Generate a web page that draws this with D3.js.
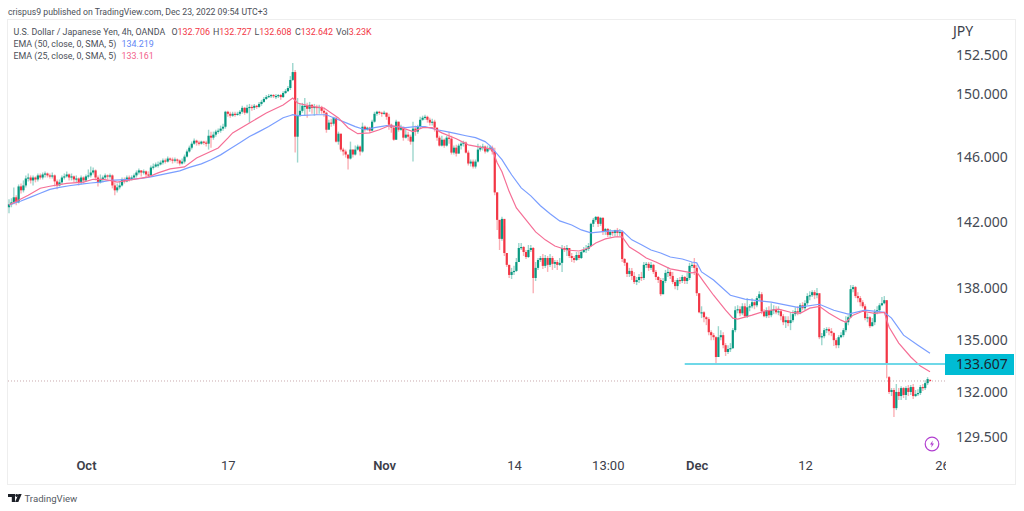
<!DOCTYPE html>
<html>
<head>
<meta charset="utf-8">
<script src="https://d3js.org/d3.v7.min.js"></script>
<style>
  body { margin: 0; background: #fff; }
  svg { display: block; font-family: "Noto Sans", sans-serif; }
</style>
</head>
<body>
<svg></svg>
<script>
const width = 1024;
const height = 511;

// 4h candles: [close, high, low, open?]. open = previous close unless given
const candles = [
[143.06,143.37,142.51,142.88],[143.18,143.43,142.88],[143.49,144.10,143.06],[143.18,143.61,143.0],[144.16,144.28,143.12],[143.92,144.34,143.73],[144.22,144.53,143.79],[144.65,144.84,144.10],[144.71,144.96,144.47],[144.53,144.84,144.34],
[144.71,144.84,144.22],[144.59,144.78,144.41],[144.84,144.96,144.47],[144.71,144.96,144.59],[144.90,145.02,144.59],[144.96,145.09,144.71],[144.84,145.02,144.71],[144.78,144.96,144.65],[144.84,145.02,144.65],[144.47,144.90,144.16],
[144.22,144.59,143.98],[144.41,144.59,144.16],[144.71,144.84,144.28],[144.78,144.96,144.59],[144.90,145.09,144.71],[144.71,144.96,144.53],[144.78,144.96,144.53],[144.59,144.84,144.41],[144.65,144.84,144.41],[144.41,144.71,144.22],
[144.71,144.84,144.28],[144.53,144.78,144.34],[144.78,144.90,144.47],[144.84,145.21,144.65],[145.02,145.39,144.71],[145.15,145.33,144.90],[144.71,145.21,144.53],[144.41,144.84,144.16],[144.59,144.90,144.34],[144.71,144.84,144.41],
[144.84,144.96,144.59],[144.78,144.90,144.59],[144.84,144.96,144.65],[144.22,144.90,144.04],[143.92,144.41,143.61],[144.10,144.34,143.79],[144.22,144.47,143.98],[144.59,144.71,144.16],[144.47,144.71,144.34],[144.71,144.84,144.41],
[144.59,144.84,144.47],[144.71,144.84,144.53],[144.84,144.96,144.59],[145.02,145.15,144.71],[145.15,145.27,144.90],[145.02,145.15,144.78],[145.09,145.21,144.90],[144.90,145.15,144.71],[144.84,145.09,144.71],[145.33,145.46,144.84],
[145.39,145.58,145.21],[145.52,145.64,145.33],[145.52,145.70,145.33],[145.64,145.77,145.46],[145.77,145.89,145.52],[145.70,145.89,145.58],[145.89,146.01,145.64],[145.83,145.95,145.70],[145.77,145.95,145.58],[145.83,145.95,145.64],
[145.77,145.89,145.58],[145.58,145.83,145.46],[145.70,145.89,145.52],[146.01,146.14,145.58],[146.33,146.45,145.95],[146.57,146.70,146.26],[146.82,146.95,146.45],[147.01,147.14,146.76],[146.89,147.07,146.70],[146.82,147.01,146.70],
[146.95,147.01,146.76],[146.89,147.01,146.76],[146.82,147.01,146.64],[147.32,147.70,146.45],[147.20,147.58,146.57],[147.39,147.58,147.07],[147.58,147.70,147.26],[147.64,147.77,147.45],[147.77,147.96,147.51],[147.89,148.08,147.64],
[148.84,148.90,147.77],[148.71,148.90,148.52],[148.59,148.84,148.46],[148.71,148.84,148.52],[148.65,148.84,148.52],[148.71,148.84,148.59],[148.84,148.96,148.59],[149.09,149.22,148.71],[148.78,149.15,148.65],[149.09,149.28,148.71],
[149.15,149.34,148.15],[149.09,149.28,148.90],[149.22,149.34,148.96],[149.15,149.28,149.03],[149.34,149.47,149.09],[149.47,149.60,149.22],[149.66,149.78,149.41],[149.78,149.91,149.60],[149.85,149.97,149.72],[149.91,149.97,149.72],
[149.85,149.97,149.72],[149.85,149.97,149.66],[149.91,149.97,149.72],[149.78,149.97,149.60],[150.04,150.16,149.72],[150.16,150.29,149.97],[150.36,150.49,150.10],[150.88,151.13,150.23],[151.39,151.98,150.82],[147.26,151.52,146.26],
[148.59,149.72,145.64],[148.90,149.34,148.52],[149.22,149.41,148.78],[149.22,149.72,148.59],[149.03,149.41,148.46],[149.28,149.47,148.84],[149.09,149.34,148.71],[149.15,149.34,148.59],[149.09,149.28,148.65],[149.15,149.28,148.71],
[148.90,149.22,148.71],[148.78,149.09,148.52],[147.70,148.84,147.51],[148.15,148.33,147.89],[148.08,148.40,147.89],[148.46,148.52,147.96],[146.95,148.46,146.89],[147.45,147.58,146.76],[146.45,147.45,146.33],[146.33,146.57,146.08],
[146.14,146.45,145.95],[145.89,146.08,145.21],[146.45,146.95,145.83],[146.14,146.45,145.95],[146.45,146.70,146.08],[146.64,146.76,146.39],[146.33,146.70,146.08],[147.89,148.15,146.26],[147.70,147.96,147.58],[147.83,147.89,147.64],
[147.64,147.89,147.51],[148.21,148.33,147.64],[148.71,148.84,148.15],[148.84,148.90,148.59],[148.78,148.90,148.65],[148.71,148.84,148.52],[148.78,148.90,148.65],[148.52,148.78,148.33],[148.02,148.71,147.70],[147.83,148.08,147.51],
[147.07,147.96,147.01],[148.21,148.33,147.07],[147.70,148.21,147.58],[147.83,148.02,147.64],[147.20,147.89,147.01],[147.39,147.70,147.14],[147.26,147.58,147.01],[146.95,147.39,146.76],[147.77,148.21,145.70],[147.58,147.96,147.32],
[147.89,148.02,147.45],[148.33,148.52,147.77],[148.46,148.59,148.27],[148.52,148.65,148.33],[148.33,148.59,148.15],[148.15,148.46,147.96],[148.21,148.40,147.96],[147.83,148.33,147.58],[147.20,147.83,147.01],[146.70,147.32,146.64],
[147.07,147.32,146.64],[146.70,147.14,146.57],[147.20,147.32,146.64],[147.14,147.58,146.82],[146.26,147.32,146.14],[146.57,146.70,146.14],[146.20,146.76,146.01],[146.70,146.82,146.20],[146.82,146.95,146.45],[146.89,147.01,146.64],
[146.26,146.95,146.20],[145.58,146.39,145.46],[145.70,145.83,145.39],[145.39,145.83,145.27],[145.70,145.83,145.27],[146.45,146.82,145.64],[146.57,146.70,146.33],[146.64,146.82,146.39],[146.33,146.70,146.20],[146.51,146.70,146.26],
[146.57,146.70,146.39],[146.33,146.70,146.14],[143.79,146.57,143.61],[142.11,143.82,141.50],[140.96,142.11,140.29],[142.17,142.30,140.84],[140.11,141.74,139.93],[139.40,140.11,139.28],[138.80,139.40,138.62],[138.98,139.22,138.56],
[139.04,139.34,138.80],[139.57,139.81,138.98],[140.41,140.71,139.57],[140.47,140.71,140.29],[140.17,140.53,139.93],[139.87,140.29,139.75],[140.29,140.59,139.81],[140.41,140.59,140.17],[138.62,140.47,137.72],[139.22,139.57,138.44],
[139.69,139.81,139.10],[139.81,139.93,139.57],[139.34,140.05,139.16],[139.81,139.99,139.22],[139.40,139.93,138.98],[139.81,140.05,139.28],[139.46,139.93,139.10],[139.57,139.69,139.22],[139.40,139.69,139.10],[139.52,139.81,139.34],
[140.41,140.59,138.98],[140.29,140.53,140.17],[140.41,140.59,139.93],[139.93,140.29,139.81],[139.81,140.11,139.57],[139.69,139.93,139.52],[139.99,140.17,139.63],[139.81,140.17,139.69],[140.17,140.29,139.75],[140.29,140.47,140.11],
[140.35,140.59,140.11],[140.53,140.71,140.23],[141.87,141.93,140.47],[142.11,142.23,141.68],[142.29,142.35,141.99],[141.87,142.35,141.68],[142.23,142.29,141.74],[141.38,142.29,141.20],[141.56,141.62,141.20],[141.20,141.62,141.08],
[141.38,141.56,141.08],[141.32,141.44,141.14],[141.50,141.50,141.14],[141.32,141.62,141.08],[141.38,141.56,141.14],[139.75,141.44,139.57],[139.52,139.81,139.34],[138.86,139.57,138.68],[139.04,139.22,138.68],[138.74,139.22,138.50],
[138.38,138.98,138.26],[138.50,138.68,138.20],[138.68,138.86,138.32],[138.62,138.98,138.44],[139.40,139.57,138.50],[139.46,139.57,139.22],[139.22,139.57,139.04],[139.40,139.57,139.10],[138.98,139.46,138.86],[138.68,139.10,138.50],
[138.50,138.74,138.32],[137.66,138.62,137.55],[138.44,138.62,137.66],[138.92,139.10,138.32],[138.98,139.28,138.68],[138.74,139.10,138.56],[138.38,138.98,138.26],[138.14,138.50,137.96],[138.50,138.62,137.90],[138.44,138.68,138.26],
[138.68,138.80,138.32],[138.44,138.74,138.26],[138.62,138.92,138.26],[139.34,139.52,138.50],[139.40,139.57,139.22],[139.22,139.81,138.80],[137.72,139.40,137.55],[136.60,137.60,136.54],[136.60,136.95,136.26],[136.31,136.66,136.02],
[136.20,136.37,135.85],[135.44,136.31,135.27],[135.27,135.56,134.98],[135.15,135.39,134.98],[134.01,135.21,133.60],[135.15,135.79,134.41],[135.27,135.56,134.98],[134.69,135.44,134.52],[134.30,134.81,134.07],[134.47,134.69,134.18],
[134.52,134.81,134.30],[135.56,135.68,134.47],[136.72,136.95,135.44],[136.78,137.01,136.54],[136.54,136.95,136.37],[136.95,137.13,136.43],[136.37,137.13,136.26],[136.89,137.43,136.26],[136.95,137.07,136.66],[137.19,137.43,136.84],
[137.01,137.25,136.78],[137.43,137.55,136.89],[137.66,137.84,137.31],[136.66,137.78,136.49],[136.37,136.78,136.31],[136.72,136.89,136.26],[136.43,136.95,136.26],[136.72,137.13,136.31],[136.78,137.01,136.49],[136.60,136.95,136.49],
[136.66,136.95,136.43],[136.37,136.78,136.14],[136.02,136.49,135.85],[136.14,136.37,135.68],[135.97,136.37,135.79],[136.14,136.60,135.56],[136.49,136.72,136.02],[136.66,136.89,136.37],[136.60,136.95,136.43],[137.01,137.13,136.49],
[136.84,137.19,136.72],[137.13,137.31,136.72],[137.55,137.72,137.01],[137.60,137.84,137.31],[137.78,137.90,137.49],[137.60,137.90,137.37],[137.72,138.02,137.43],[135.15,137.60,135.04],[135.21,135.39,134.69],[135.56,135.68,135.09],
[135.62,135.73,135.39],[135.50,135.73,135.27],[135.39,135.68,135.21],[134.98,135.44,134.64],[134.69,135.09,134.52],[135.15,135.27,134.52],[135.27,135.44,135.09],[135.56,135.68,135.15],[136.02,136.37,135.44],[136.31,136.43,135.85],
[137.96,138.20,136.26],[138.08,138.20,137.78],[137.55,138.14,137.43],[137.43,137.78,137.19],[137.19,137.55,136.95],[136.95,137.31,136.84],[136.26,137.07,136.14],[136.31,136.54,136.02],[135.79,136.37,135.68],[136.02,136.26,135.79],
[136.60,136.78,135.85],[136.72,136.95,136.49],[137.01,137.13,136.60],[137.13,137.49,136.95],[137.31,137.55,137.07],[133.66,137.31,132.80],[132.02,132.92,131.90,132.86],[132.13,132.24,131.79],[131.11,132.24,130.61],[132.02,132.47,131.00],
[131.79,132.24,131.56],[132.24,132.35,131.56],[131.85,132.30,131.68],[132.24,132.35,131.56],[132.02,132.41,131.79],[132.30,132.41,131.85],[131.79,132.47,131.62],[131.90,132.13,131.73],[131.96,132.18,131.79],[132.30,132.41,131.85],
[132.24,132.47,132.07],[132.52,132.69,132.13],[132.75,132.86,132.41],[132.642,132.727,132.608,132.706]
];

// moving averages, read as [bar index, value]
const ema50 = [[0,143.02],[5,143.26],[9,143.5],[13,143.74],[17,143.98],[21,144.1],[25,144.2],[30,144.3],[34,144.37],[38,144.43],[42,144.53],[46,144.56],[50,144.59],[55,144.65],[59,144.75],[63,144.87],[67,145.0],[71,145.12],[75,145.34],[80,145.56],[84,145.81],[88,146.12],[92,146.5],[96,146.88],[100,147.27],[104,147.58],[108,147.9],[114,148.46],[117,148.6],[118,148.66],[120,148.6],[128,148.65],[132,148.65],[136,148.4],[140,148.15],[144,147.9],[148,147.7],[152,147.83],[157,147.96],[161,147.9],[165,147.83],[169,147.9],[173,147.9],[178,147.7],[182,147.58],[186,147.45],[190,147.32],[194,147.2],[198,146.95],[200,146.7],[205,145.82],[209,144.88],[213,144.07],[217,143.58],[221,142.97],[225,142.48],[229,142.05],[234,141.8],[238,141.5],[242,141.32],[246,141.38],[250,141.44],[255,141.44],[259,140.9],[263,140.6],[267,140.29],[271,140.11],[275,139.87],[280,139.75],[284,139.57],[286,139.52],[288,138.98],[293,138.5],[300,137.6],[306,137.37],[317,137.19],[328,136.89],[337,137.07],[343,136.72],[349,136.49],[356,136.72],[364,136.6],[367,136.26],[372,135.27],[378,134.69],[383,134.219]];
const ema25 = [[0,143.02],[8,143.62],[13,144.05],[17,144.17],[24,144.35],[31,144.43],[35,144.6],[39,144.6],[43,144.5],[45,144.43],[50,144.55],[58,144.75],[62,145.0],[67,145.25],[73,145.37],[78,145.93],[87,146.55],[91,147.17],[93,147.5],[100,148.13],[107,148.76],[114,149.27],[118,149.72],[120,149.4],[125,149.2],[131,149.08],[137,148.45],[141,147.83],[145,147.45],[150,147.5],[154,147.7],[158,147.95],[162,147.9],[168,147.58],[172,147.83],[176,147.83],[180,147.5],[186,147.13],[191,146.75],[197,146.57],[200,146.5],[201,146.43],[203,145.63],[205,145.07],[208,143.84],[211,142.84],[215,142.11],[219,141.38],[223,140.9],[227,140.53],[232,140.29],[237,140.23],[241,140.41],[244,140.71],[248,140.96],[252,141.08],[255,141.08],[258,140.47],[262,140.11],[265,139.81],[269,139.57],[275,139.16],[284,138.92],[286,138.98],[289,138.38],[293,137.6],[298,136.72],[301,136.26],[303,136.2],[309,136.43],[314,136.66],[320,136.78],[325,136.6],[329,136.54],[333,136.84],[337,136.95],[341,136.54],[346,136.14],[348,136.02],[351,136.43],[355,136.66],[360,136.54],[364,136.6],[366,135.73],[370,134.81],[375,134.01],[379,133.49],[383,133.161]];

const priceTicks = [152.5, 150, 146, 142, 138, 135, 132, 129.5];
const timeTicks = [[32,'Oct'],[91,'17'],[156,'Nov'],[210,'14'],[249,'13:00'],[286,'Dec'],[331,'12'],[388,'26']];
const support = 133.607;

const upColor = '#089981';
const downColor = '#f23645';

const xScale = d3.scaleLinear().domain([0, candles.length - 1]).range([9, 930]);
const yScale = d3.scaleLog().domain([129.5, 152.5]).range([437, 55]);

const canvas = d3.select('svg').attr('width', width).attr('height', height);

const drawFrame = () => {
  canvas.append('rect')
        .attr('x', 7.5)
        .attr('y', 19.5)
        .attr('width', 1008)
        .attr('height', 465)
        .attr('fill', 'none')
        .attr('stroke', '#eeeeee');
}

const drawCandles = () => {
  const rows = candles.map((d, i) => ({
    i: i,
    close: d[0],
    high: d[1],
    low: d[2],
    open: d[3] !== undefined ? d[3] : candles[i - 1][0]
  }));
  const colorOf = d => d.close >= d.open ? upColor : downColor;

  const g = canvas.append('g');
  g.selectAll('line')
   .data(rows)
   .enter()
   .append('line')
   .attr('x1', d => xScale(d.i))
   .attr('x2', d => xScale(d.i))
   .attr('y1', d => yScale(d.high))
   .attr('y2', d => yScale(d.low))
   .attr('stroke', colorOf)
   .attr('stroke-width', 1.4)
   .attr('stroke-opacity', 0.4);

  g.selectAll('rect')
   .data(rows)
   .enter()
   .append('rect')
   .attr('x', d => xScale(d.i) - 1.1)
   .attr('y', d => yScale(Math.max(d.open, d.close)))
   .attr('width', 2.2)
   .attr('height', d => Math.max(1.2, Math.abs(yScale(d.open) - yScale(d.close))))
   .attr('fill', colorOf);
}

const drawLines = () => {
  const line = d3.line().x(d => xScale(d[0])).y(d => yScale(d[1]));

  canvas.append('path')
        .attr('d', line(ema50))
        .attr('fill', 'none')
        .attr('stroke', '#7a9eff')
        .attr('stroke-width', 1.2);

  canvas.append('path')
        .attr('d', line(ema25))
        .attr('fill', 'none')
        .attr('stroke', '#f56f96')
        .attr('stroke-width', 1.2);

  // last price
  canvas.append('line')
        .attr('x1', 8)
        .attr('x2', 945)
        .attr('y1', yScale(candles[candles.length - 1][0]))
        .attr('y2', yScale(candles[candles.length - 1][0]))
        .attr('stroke', '#c9a9ad')
        .attr('stroke-width', 1)
        .attr('stroke-dasharray', '1 2');

  // drawn support level
  canvas.append('line')
        .attr('x1', xScale(281))
        .attr('x2', 945)
        .attr('y1', yScale(support))
        .attr('y2', yScale(support))
        .attr('stroke', '#6fd8e8')
        .attr('stroke-width', 2);
}

const drawAxes = () => {
  const yAxis = d3.axisRight(yScale)
                  .tickValues(priceTicks)
                  .tickSize(0)
                  .tickPadding(0)
                  .tickFormat(d3.format('.3f'));

  const yG = canvas.append('g')
        .attr('id', 'y-axis')
        .attr('transform', 'translate(956, 0)')
        .call(yAxis);
  yG.select('.domain').remove();
  yG.selectAll('text')
    .attr('font-family', '"Noto Sans", sans-serif')
    .attr('font-size', 14)
    .attr('fill', '#454a54');

  canvas.append('clipPath')
        .attr('id', 'time-clip')
        .append('rect')
        .attr('x', 0)
        .attr('y', 440)
        .attr('width', 946)
        .attr('height', 50);

  const labels = new Map(timeTicks);
  const xAxis = d3.axisBottom(xScale)
                  .tickValues(timeTicks.map(d => d[0]))
                  .tickSize(0)
                  .tickPadding(0)
                  .tickFormat(d => labels.get(d));

  const xG = canvas.append('g')
        .attr('id', 'x-axis')
        .attr('clip-path', 'url(#time-clip)')
        .append('g')
        .attr('transform', 'translate(0, 461)')
        .call(xAxis);
  xG.select('.domain').remove();
  xG.selectAll('text')
    .attr('font-family', '"Roboto", sans-serif')
    .attr('font-size', 13)
    .attr('font-weight', d => ['Oct', 'Nov', 'Dec'].includes(labels.get(d)) ? 600 : 400)
    .attr('fill', '#3c404a');

  // support price tag
  canvas.append('rect')
        .attr('x', 945)
        .attr('y', 354)
        .attr('width', 69)
        .attr('height', 21)
        .attr('fill', '#00bcd4');
  canvas.append('text')
        .attr('x', 956)
        .attr('y', 369)
        .attr('font-size', 14)
        .attr('fill', '#1c2530')
        .text(d3.format('.3f')(support));

  canvas.append('text')
        .attr('x', 953)
        .attr('y', 36)
        .attr('font-size', 14)
        .attr('fill', '#3c404a')
        .text('JPY');
}

const drawTexts = () => {
  const label = (x, y, text, color, size) => canvas.append('text')
        .attr('x', x)
        .attr('y', y)
        .attr('font-family', '"Roboto", sans-serif')
        .attr('font-size', size || 8.9)
        .attr('fill', color)
        .text(text);

  label(8, 15, 'crispus9 published on TradingView.com, Dec 23, 2022 09:54 UTC+3', '#4b4f58', 8.7);
  label(13.5, 35, 'U.S. Dollar / Japanese Yen, 4h, OANDA', '#4b4f58');
  label(13.5, 47, 'EMA (50, close, 0, SMA, 5)', '#4b4f58');
  label(13.5, 59, 'EMA (25, close, 0, SMA, 5)', '#4b4f58');
  label(121.5, 47, '134.219', '#5f86f5');
  label(121.5, 59, '133.161', '#f2608a');

  [[171.5, 'O', '132.706'], [213, 'H', '132.727'], [254.5, 'L', '132.608'], [295, 'C', '132.642'], [336, 'Vol', '3.23K']].forEach(d => {
    const t = label(d[0], 35, d[1], '#4b4f58');
    t.append('tspan').attr('fill', downColor).text(d[2]);
  });

  canvas.append('text')
        .attr('x', 24.5)
        .attr('y', 501.5)
        .attr('font-family', '"Roboto", sans-serif')
        .attr('font-size', 9.6)
        .attr('fill', '#555a63')
        .text('TradingView');

  // small logo
  const logo = canvas.append('g').attr('fill', '#1c2028');
  logo.append('path').attr('d', 'M8 494h7v8h-3.2v-5H8z');
  logo.append('circle').attr('cx', 16.7).attr('cy', 495.5).attr('r', 1.4);
  logo.append('path').attr('d', 'M18.5 494h3.2l-3.4 8h-3.2z');

  // lightning badge
  const badge = canvas.append('g').attr('transform', 'translate(932, 444)');
  badge.append('circle')
       .attr('r', 6.8)
       .attr('fill', '#fff')
       .attr('stroke', '#b13fd0')
       .attr('stroke-width', 1.2);
  badge.append('path')
       .attr('d', 'M0.8 -3.6 L-2 0.6 H-0.2 L-0.8 3.6 L2 -0.6 H0.2 Z')
       .attr('fill', '#b13fd0');
}

drawFrame();
drawCandles();
drawLines();
drawAxes();
drawTexts();
</script>
</body>
</html>
